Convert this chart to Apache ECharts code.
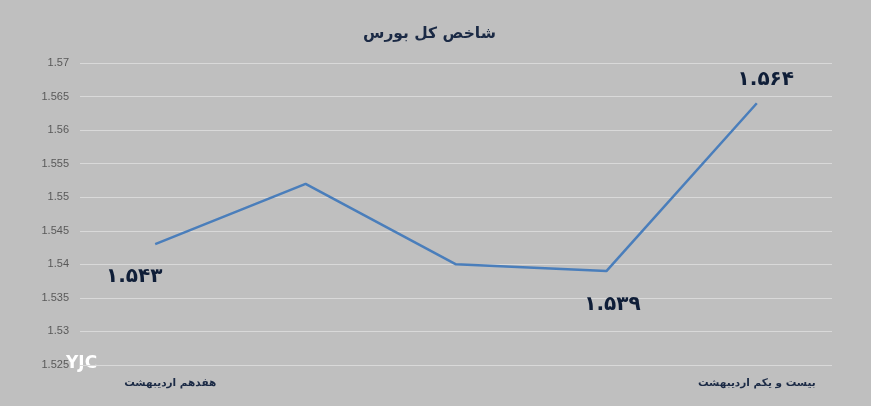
<!DOCTYPE html>
<html><head><meta charset="utf-8">
<script src="https://cdn.jsdelivr.net/npm/echarts@6/dist/echarts.min.js"></script>
<style>html,body{margin:0;padding:0;background:#bfbfbf;}#c{width:871px;height:406px;}</style>
</head><body><div id="c"></div>
<script>
var categories = ['هفدهم اردیبهشت', '', '', '', 'بیست و یکم اردیبهشت'];
var values = [1.543, 1.552, 1.540, 1.539, 1.564];
var pointLabels = ['۱.۵۴۳', '', '', '۱.۵۳۹', '۱.۵۶۴'];
var titleText = 'شاخص کل بورس';

var labelStyle = [
  {show: true, position: 'bottom', offset: [-21, 17]},
  {show: false},
  {show: false},
  {show: true, position: 'bottom', offset: [6, 18]},
  {show: true, position: 'top', offset: [9, -8]}
];
var data = values.map(function (v, i) {
  var l = Object.assign({formatter: pointLabels[i]}, labelStyle[i]);
  return {value: v, label: l};
});
var catData = categories.map(function (c, i) {
  return i === 0 ? {value: c, textStyle: {padding: [0, 0, 0, 30]}} : c;
});

var chart = echarts.init(document.getElementById('c'));
chart.setOption({
  backgroundColor: '#bfbfbf',
  animation: false,
  title: {
    text: titleText, left: 358, top: 21,
    textStyle: {fontFamily: 'DejaVu Sans', fontWeight: 'bold', fontSize: 15.5, color: '#1b2a45'}
  },
  graphic: [{
    type: 'text', left: 66, top: 355,
    style: {text: 'YJC', fill: '#ffffff', font: 'bold 17px "DejaVu Sans"'}
  }],
  grid: {left: 80, right: 39, top: 63, bottom: 41},
  xAxis: {
    type: 'category', data: catData, boundaryGap: true,
    axisLine: {show: false}, axisTick: {show: false},
    axisLabel: {interval: 0, margin: 13, color: '#1b2a45', fontWeight: 'bold', fontSize: 10.5, fontFamily: 'DejaVu Sans'}
  },
  yAxis: {
    type: 'value', min: 1.525, max: 1.57, interval: 0.005,
    axisLine: {show: false}, axisTick: {show: false},
    splitLine: {lineStyle: {color: '#d9d9d9', width: 1}},
    axisLabel: {color: '#595959', fontSize: 11, margin: 11, fontFamily: 'Liberation Sans',
      formatter: function (v) { return String(parseFloat(v.toFixed(3))); }}
  },
  series: [{
    type: 'line', data: data, symbol: 'circle', symbolSize: 1, showSymbol: true,
    itemStyle: {color: 'rgba(0,0,0,0)'},
    lineStyle: {color: '#4a7ebb', width: 2.5},
    label: {color: '#0f1e38', fontWeight: 'bold', fontSize: 20, fontFamily: 'DejaVu Sans'}
  }]
});
</script></body></html>
